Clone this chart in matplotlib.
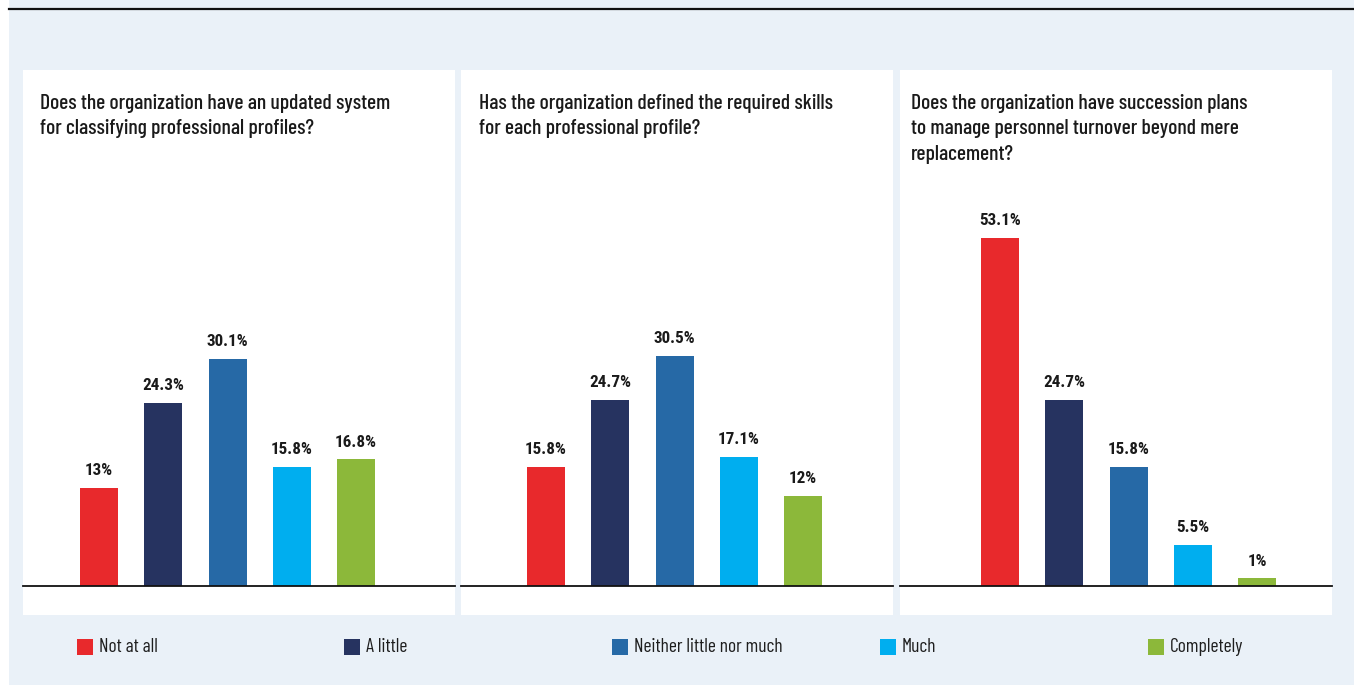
import matplotlib
matplotlib.use("Agg")
import matplotlib.pyplot as plt
from matplotlib.patches import Rectangle

plt.rcParams["font.family"] = ["Barlow Condensed", "DejaVu Sans"]

categories = ["Not at all", "A little", "Neither little nor much", "Much", "Completely"]
colors = ["#E8292C", "#263360", "#2669A6", "#00AEEF", "#8CB83A"]

questions = [
    "Does the organization have an updated system\nfor classifying professional profiles?",
    "Has the organization defined the required skills\nfor each professional profile?",
    "Does the organization have succession plans\nto manage personnel turnover beyond mere\nreplacement?",
]
profiles_system = [13.0, 24.3, 30.1, 15.8, 16.8]
skills_defined = [15.8, 24.7, 30.5, 17.1, 12.0]
succession_plans = [53.1, 24.7, 15.8, 5.5, 1.0]
series = [profiles_system, skills_defined, succession_plans]

W, H = 1354, 685
BG = "#EAF1F8"
YTOP = 46.15  # axis ceiling; taller bars are cut at the top


def fx(px):
    return px / W


def fy(py):
    return 1 - py / H


fig = plt.figure(figsize=(W / 100, H / 100), dpi=100)
fig.patch.set_facecolor("white")
fig.add_artist(Rectangle((fx(9), 0), 1 - fx(9), 1, transform=fig.transFigure,
                         facecolor=BG, edgecolor="none", zorder=0))
fig.add_artist(plt.Line2D([fx(9), 1], [fy(9), fy(9)], transform=fig.transFigure,
                          color="#111111", lw=1.6))

panel_left = [23, 461, 900]
panel_w = 432
bar_offset = [76, 85, 100]   # px from panel edge to first bar centre
title_x = [40, 479, 911]
step = 64.25                 # px between bar centres

for k in range(3):
    x0 = panel_left[k]
    fig.add_artist(Rectangle((fx(x0), fy(615)), fx(panel_w), fy(70) - fy(615),
                             transform=fig.transFigure, facecolor="white",
                             edgecolor="none", zorder=1))
    ax = fig.add_axes([fx(x0), fy(586), fx(panel_w), fy(238) - fy(586)])
    ax.set_zorder(2)
    ax.patch.set_alpha(0)
    left = -bar_offset[k] / step
    ax.set_xlim(left, left + panel_w / step)
    ax.set_ylim(0, YTOP)
    xs = range(len(categories))
    ax.bar(xs, series[k], width=38 / step, color=colors)
    ax.axhline(0, color="#111111", lw=1.3, clip_on=False)
    for x, v in zip(xs, series[k]):
        label = f"{v:.1f}%".replace(".0%", "%")
        ax.text(x, min(v, YTOP) + 1.3, label, ha="center", va="bottom",
                fontsize=12.3, fontweight="bold", color="#1a1a1a",
                family=["Roboto Condensed", "DejaVu Sans"], clip_on=False)
    ax.axis("off")
    fig.text(fx(title_x[k]), fy(94), questions[k], ha="left", va="top",
             fontsize=15.5, fontweight="medium", color="#1a1a1a",
             linespacing=1.42, zorder=3)

legend_x = [77, 344, 612, 880, 1148]
for lx, name, c in zip(legend_x, categories, colors):
    fig.add_artist(Rectangle((fx(lx), fy(655)), fx(16), fy(639) - fy(655),
                             transform=fig.transFigure, facecolor=c,
                             edgecolor="none", zorder=2))
    fig.text(fx(lx + 22), fy(647), name, ha="left", va="center",
             fontsize=14, fontweight="normal", color="#1e1e1e")

fig.savefig("out.png", dpi=100)
